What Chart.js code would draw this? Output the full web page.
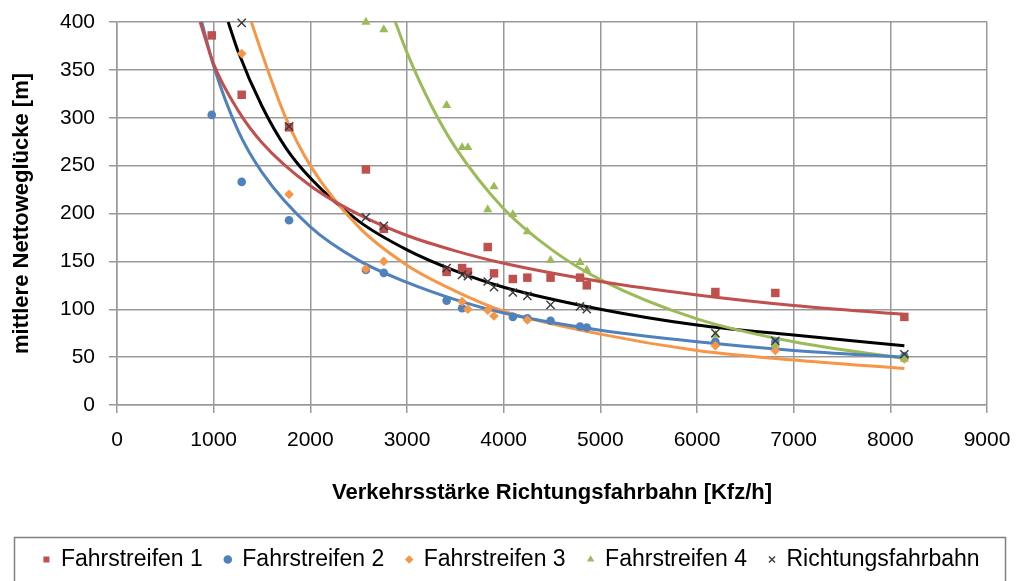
<!DOCTYPE html>
<html>
<head>
<meta charset="utf-8">
<script src="https://cdn.jsdelivr.net/npm/chart.js@4.4.1/dist/chart.umd.min.js"></script>
<style>
  body { margin: 0; background: #fff; }
  canvas { display: block; }
</style>
</head>
<body>
<canvas id="myChart" width="1016" height="581"></canvas>
<script>
// Messpunkte: Verkehrsstärke [Kfz/h]
const verkehrsstaerke = [980, 1290, 1780, 2575, 2760, 3410, 3570, 3630, 3835, 3900, 4095, 4245, 4485, 4790, 4860, 6190, 6810, 8145];

// mittlere Nettoweglücke [m] je Fahrstreifen (null = nicht sichtbar)
const fahrstreifen1 = [386, 324, 290, 246, 184, 139, 143, 139, 165, 137.5, 131.6, 133, 133, 133, 125, 118, 117, 92];
const fahrstreifen2 = [303, 233, 193, 141, 138, 109, 101, null, null, null, 92, 90.5, 88, 82, 81, 66, 66, 51];
const fahrstreifen3 = [null, 367, 220, 142, 150, null, 108, 100, 99, 93, null, 88.8, null, null, null, 62, 57, 48];
const fahrstreifen4 = [null, null, null, 400, 392, 313, 269, 269, 204, 228, 199, 181, 151, 149, 141, 73, 63, 48];
const richtungsfahrbahn = [null, 399, 291, 196, 187, 143, 136, 134.5, 129, 123, 117.5, 114, 104.5, 103, 100, 75, 67, 53];

// Trendlinien (Potenz)
const trend1X = [860, 1000, 1250, 1500, 2000, 2500, 3000, 3500, 4000, 5000, 6000, 7000, 8145];
const trend1Y = [400, 356, 308, 274, 229, 199, 177, 161, 148, 129, 115, 104, 94.5];
const trend2X = [877, 1000, 1250, 1500, 2000, 2500, 3000, 3500, 4000, 5000, 6000, 7000, 8145];
const trend2Y = [400, 354, 287, 243, 186, 151, 128, 110, 96, 78, 66, 57, 50];
const trend3X = [1390, 1500, 1750, 2000, 2500, 3000, 3500, 4000, 5000, 6000, 7000, 8145];
const trend3Y = [400, 367, 299, 250, 186, 146, 119, 98, 74, 57, 47, 38];
const trend4X = [2880, 3000, 3250, 3500, 4000, 4500, 5000, 6000, 7000, 8145];
const trend4Y = [400, 368, 313, 269, 205, 162, 131, 90, 66, 48.5];
const trendRX = [1150, 1250, 1500, 1750, 2000, 2500, 3000, 3500, 4000, 5000, 6000, 7000, 8145];
const trendRY = [400, 370, 312, 268, 237, 192, 162, 140, 123, 100, 83.5, 73, 62];

const xTicks = [0, 1000, 2000, 3000, 4000, 5000, 6000, 7000, 8000, 9000];
const yTicks = [0, 50, 100, 150, 200, 250, 300, 350, 400];

const colors = ['#C0504D', '#4F81BD', '#F79646', '#9BBB59', '#3a3a3a'];

function points(xs, ys) {
  return xs.map((x, i) => ({ x: x, y: ys[i] })).filter(p => p.y !== null);
}

function scatterSet(label, ys, color, style, radius, order) {
  return {
    label: label,
    data: points(verkehrsstaerke, ys),
    showLine: false,
    pointStyle: style,
    pointRadius: radius,
    pointHoverRadius: radius,
    backgroundColor: color,
    borderColor: color,
    borderWidth: style === 'crossRot' ? 1.4 : 0,
    clip: false,
    order: order
  };
}

function trendSet(xs, ys, color) {
  return {
    label: 'trend',
    data: points(xs, ys),
    showLine: true,
    pointRadius: 0,
    borderColor: color,
    borderWidth: 3,
    cubicInterpolationMode: 'monotone',
    order: 10
  };
}

const data = {
  datasets: [
    scatterSet('Fahrstreifen 1', fahrstreifen1, colors[0], 'rect', 6, 5),
    scatterSet('Fahrstreifen 2', fahrstreifen2, colors[1], 'circle', 4.3, 4),
    scatterSet('Fahrstreifen 3', fahrstreifen3, colors[2], 'rectRot', 4.8, 3),
    scatterSet('Fahrstreifen 4', fahrstreifen4, colors[3], 'triangle', 5.3, 2),
    scatterSet('Richtungsfahrbahn', richtungsfahrbahn, colors[4], 'crossRot', 5.8, 1),
    trendSet(trend1X, trend1Y, colors[0]),
    trendSet(trend2X, trend2Y, colors[1]),
    trendSet(trend3X, trend3Y, colors[2]),
    trendSet(trend4X, trend4Y, colors[3]),
    trendSet(trendRX, trendRY, '#000000')
  ]
};

// Legende etwas nach rechts, Rahmen drumherum
const legendBox = {
  id: 'legendBox',
  afterLayout(chart) {
    chart.legend.left += 18;
    chart.legend.right += 18;
  },
  afterDraw(chart) {
    const lg = chart.legend;
    const ctx = chart.ctx;
    ctx.save();
    ctx.strokeStyle = '#808080';
    ctx.lineWidth = 1.5;
    ctx.strokeRect(14.5, lg.top + 11.5, 991, 80);
    ctx.restore();
  }
};

Chart.defaults.font.family = '"Liberation Sans", Arial, sans-serif';
Chart.defaults.color = '#000';

const gridColor = '#999999';

const config = {
  type: 'scatter',
  data: data,
  options: {
    responsive: false,
    animation: false,
    layout: { padding: { top: 22, right: 29, left: 0, bottom: 0 } },
    scales: {
      x: {
        type: 'linear',
        min: 0,
        max: 9000,
        afterBuildTicks: (scale) => { scale.ticks = xTicks.map(v => ({ value: v })); },
        afterFit: (scale) => { scale.height = 121; },
        grid: { color: gridColor, lineWidth: 1.5, tickLength: 8 },
        border: { color: gridColor, width: 1.5 },
        ticks: {
          font: { size: 21, lineHeight: 2.3 },
          padding: 3,
          maxRotation: 0,
          callback: (v) => String(v)
        },
        title: {
          display: true,
          text: 'Verkehrsstärke Richtungsfahrbahn [Kfz/h]',
          font: { size: 22, weight: 'bold' },
          padding: { top: 4, bottom: 20 }
        }
      },
      y: {
        type: 'linear',
        min: 0,
        max: 400,
        afterBuildTicks: (scale) => { scale.ticks = yTicks.map(v => ({ value: v })); },
        afterFit: (scale) => { scale.width = 117; },
        grid: { color: gridColor, lineWidth: 1.5, tickLength: 8 },
        border: { color: gridColor, width: 1.5 },
        ticks: {
          font: { size: 21, lineHeight: 0.7 },
          padding: 14,
          callback: (v) => String(v)
        },
        title: {
          display: true,
          text: 'mittlere Nettoweglücke [m]',
          font: { size: 22, weight: 'bold' },
          padding: { top: 9, bottom: 0 }
        }
      }
    },
    plugins: {
      tooltip: { enabled: false },
      legend: {
        position: 'bottom',
        labels: {
          filter: (item) => item.datasetIndex < 5,
          sort: (a, b) => a.datasetIndex - b.datasetIndex,
          usePointStyle: true,
          boxWidth: 6,
          boxHeight: 6,
          padding: 22,
          font: { size: 23 },
          color: '#000'
        }
      }
    }
  },
  plugins: [legendBox]
};

var myChart = new Chart(
  document.getElementById('myChart'),
  config
);
</script>
</body>
</html>
